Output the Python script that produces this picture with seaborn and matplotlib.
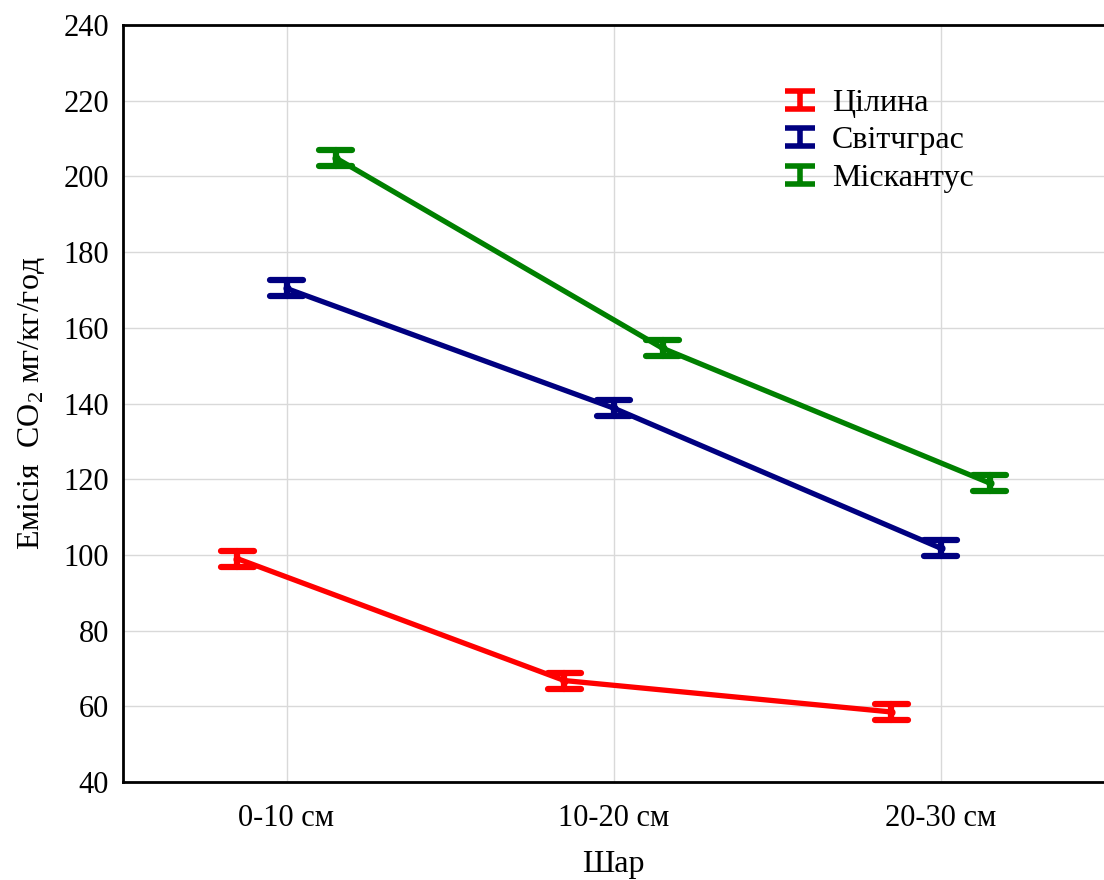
import numpy as np
import pandas as pd
import matplotlib
matplotlib.use("Agg")
import matplotlib.pyplot as plt
import seaborn as sns
from matplotlib.path import Path
from matplotlib.lines import Line2D

layers = ["0-10 см", "10-20 см", "20-30 см"]
groups = ["Цілина", "Світчграс", "Міскантус"]
tselina = [99.0, 66.8, 58.5]
svitchgras = [170.4, 138.8, 101.8]
miskantus = [204.9, 154.6, 119.0]
err_tselina = [2.1, 2.1, 2.1]
err_svitchgras = [2.1, 2.1, 2.1]
err_miskantus = [2.1, 2.1, 2.1]
colors = ["#ff0000", "#000080", "#008000"]

sns.set_theme(style="white")
plt.rcParams["font.family"] = ["Liberation Serif", "DejaVu Serif"]
plt.rcParams["mathtext.fontset"] = "custom"
plt.rcParams["mathtext.rm"] = "Liberation Serif"
plt.rcParams["mathtext.it"] = "Liberation Serif:italic"
plt.rcParams["text.color"] = "black"
plt.rcParams["axes.labelcolor"] = "black"

rows = []
for g, vals, errs in zip(groups, [tselina, svitchgras, miskantus],
                         [err_tselina, err_svitchgras, err_miskantus]):
    for lay, v, e in zip(layers, vals, errs):
        for y in (v - e, v, v + e):
            rows.append({"Шар": lay, "group": g, "value": y})
df = pd.DataFrame(rows)

fig = plt.figure(figsize=(11.04, 8.8), dpi=100)
ax = fig.add_axes([123 / 1104, 1 - 782 / 880, 1 - 123 / 1104, (782 - 25) / 880])

sns.pointplot(data=df, x="Шар", y="value", hue="group", hue_order=groups,
              palette=colors, dodge=0.3, errorbar=("pi", 100), capsize=0.1,
              markers="o", markersize=3, linewidth=3.8, err_kws={"linewidth": 4.5},
              ax=ax, legend=False)

ax.set_xlim(-0.5, 2.5)
ax.set_ylim(40, 240)
ax.set_yticks(np.arange(40, 241, 20))
ax.grid(True, color="#d9d9d9", linewidth=1)
ax.set_axisbelow(True)
for s in ["left", "bottom", "top"]:
    ax.spines[s].set_color("black")
    ax.spines[s].set_linewidth(2)
ax.spines["right"].set_visible(False)
ax.tick_params(axis="both", direction="in", length=4, width=1, labelsize=22,
               colors="black", labelcolor="black")
ax.tick_params(axis="x", pad=16)
ax.tick_params(axis="y", pad=10)
ax.set_xlabel("Шар", fontsize=23, labelpad=12, color="black")
ax.set_ylabel("Емісія  CO$_2$ мг/кг/год", fontsize=23, labelpad=12, color="black")

ibeam = Path([(-1, 0.6), (1, 0.6), (0, 0.6), (0, -0.6), (-1, -0.6), (1, -0.6)],
             [Path.MOVETO, Path.LINETO, Path.MOVETO, Path.LINETO, Path.MOVETO, Path.LINETO])
handles = [Line2D([], [], color=c, marker=ibeam, markersize=21, markeredgewidth=4,
                  linestyle="none") for c in colors]
leg = ax.legend(handles, groups, loc="upper left", bbox_to_anchor=(0.651, 0.937),
                frameon=False, fontsize=23, handletextpad=0.3, labelspacing=0.25,
                borderpad=0, handlelength=1.4)
for t in leg.get_texts():
    t.set_color("black")

fig.savefig("out.png", dpi=100)
